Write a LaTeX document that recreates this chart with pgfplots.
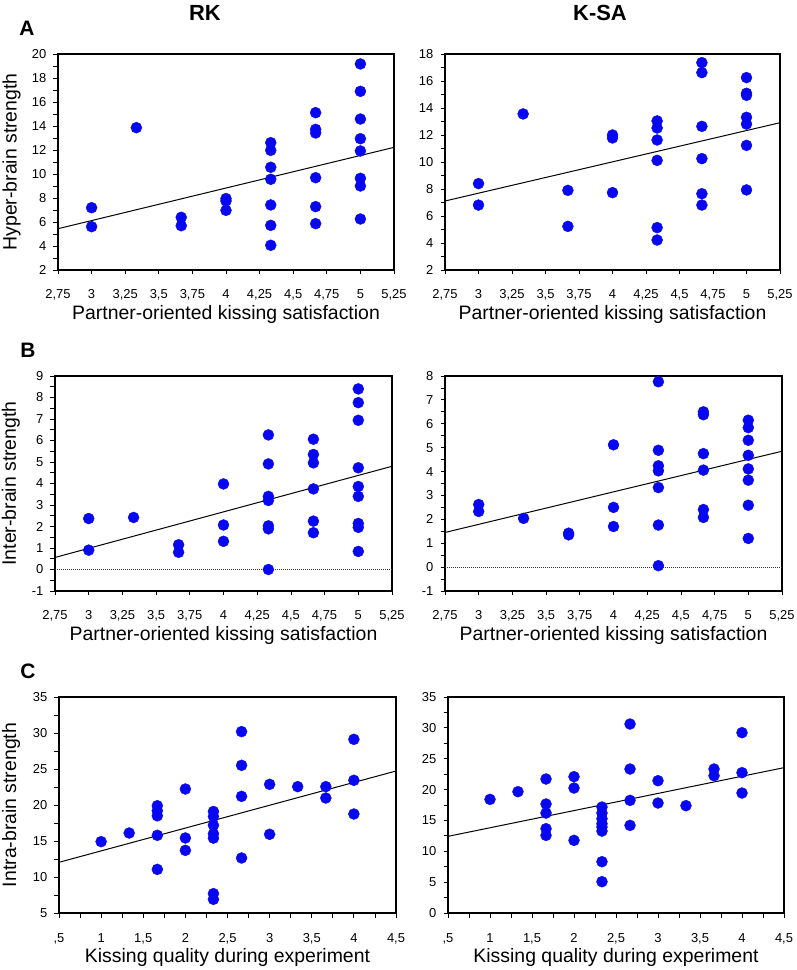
\documentclass[border=0pt]{standalone}
\usepackage{fontspec}
\setmainfont{Liberation Sans}
\usepackage{pgfplots}
\pgfplotsset{compat=1.18}
\definecolor{dotblue}{RGB}{8,8,240}
\pgfplotsset{
  kiss/.style={
    scale only axis, anchor=south west,
    width=336bp, height=216bp,
    axis line style={line width=1.1bp},
    every tick/.style={black, line width=0.8bp},
    tick align=outside,
    major tick length=4.5bp, minor tick length=4.5bp,
    xtick pos=bottom, ytick pos=left,
    /pgf/number format/assume math mode=true,
    tick label style={font=\fontsize{13}{13}\selectfont, inner sep=0pt},
    xticklabel style={anchor=base, yshift=-24.5bp},
    yticklabel style={anchor=east, xshift=-7bp},
    label style={font=\fontsize{19.5}{20}\selectfont},
    xlabel style={at={(axis description cs:0.5,-0.205)}, anchor=center},
  },
  sat/.style={
    xmin=2.75, xmax=5.25,
    xtick={2.75,3,3.25,3.5,3.75,4,4.25,4.5,4.75,5,5.25},
    xticklabels={{2,75},3,{3,25},{3,5},{3,75},4,{4,25},{4,5},{4,75},5,{5,25}},
    xlabel={Partner-oriented kissing satisfaction},
  },
  qual/.style={
    xmin=0.5, xmax=4.5,
    xtick={0.5,1,1.5,2,2.5,3,3.5,4,4.5},
    xticklabels={{,5},1,{1,5},2,{2,5},3,{3,5},4,{4,5}},
    minor x tick num=1,
    xlabel={Kissing quality during experiment},
  },
  pts/.style={only marks, mark=*, mark size=5.5bp, draw=dotblue, fill=dotblue},
  fit/.style={black, line width=1bp, no marks},
  zero/.style={black!80, line width=0.7bp, dash pattern=on 1bp off 1bp, no marks},
}
\begin{document}
\begin{tikzpicture}
\useasboundingbox (0,0) rectangle (797bp,970bp);
\node[font=\bfseries\fontsize{22}{22}\selectfont] at (205bp,957.5bp) {RK};
\node[font=\bfseries\fontsize{22}{22}\selectfont] at (600bp,957.5bp) {K-SA};
\node[font=\bfseries\fontsize{21}{21}\selectfont] at (27bp,942bp) {A};
\node[font=\bfseries\fontsize{21}{21}\selectfont] at (28bp,620bp) {B};
\node[font=\bfseries\fontsize{21}{21}\selectfont] at (28bp,299bp) {C};

% A left
\begin{axis}[kiss, sat, at={(58bp,700bp)}, width=336bp, height=216bp,
  ymin=2, ymax=20, ytick={2,4,...,20}, minor y tick num=1,
  ylabel={Hyper-brain strength},
  ylabel style={at={(axis description cs:-0.138,0.5)}, anchor=center}]
\addplot[pts] coordinates {(3,7.19)(3,5.61)(3.333,13.86)(3.667,6.39)(3.667,5.69)(4,7.95)(4,7.75)(4,6.97)(4.333,12.61)(4.333,11.97)(4.333,10.56)(4.333,9.56)(4.333,7.42)(4.333,5.72)(4.333,4.06)(4.667,15.11)(4.667,13.72)(4.667,13.42)(4.667,9.69)(4.667,7.28)(4.667,5.86)(5,19.17)(5,16.89)(5,14.58)(5,12.94)(5,11.92)(5,9.64)(5,9.0)(5,6.25)};
\addplot[fit] coordinates {(2.75,5.44)(5.25,12.22)};
\end{axis}

% A right
\begin{axis}[kiss, sat, at={(445bp,700bp)}, width=335bp, height=216bp,
  ymin=2, ymax=18, ytick={2,4,...,18}, minor y tick num=1]
\addplot[pts] coordinates {(3,8.40)(3,6.81)(3.333,13.56)(3.667,7.90)(3.667,5.23)(4,12.0)(4,11.78)(4,7.73)(4.333,13.04)(4.333,12.52)(4.333,11.63)(4.333,10.12)(4.333,5.14)(4.333,4.22)(4.667,17.36)(4.667,16.62)(4.667,12.64)(4.667,10.25)(4.667,7.65)(4.667,6.81)(5,16.25)(5,15.09)(5,14.94)(5,13.31)(5,12.81)(5,11.23)(5,7.93)};
\addplot[fit] coordinates {(2.75,7.11)(5.25,12.91)};
\end{axis}

% B left
\begin{axis}[kiss, sat, at={(55bp,379bp)}, width=337bp, height=215bp,
  ymin=-1, ymax=9, ytick={-1,0,...,9}, minor y tick num=1,
  ylabel={Inter-brain strength},
  ylabel style={at={(axis description cs:-0.131,0.5)}, anchor=center}]
\addplot[zero] coordinates {(2.75,0)(5.25,0)};
\addplot[pts] coordinates {(3,2.37)(3,0.90)(3.333,2.42)(3.667,1.15)(3.667,0.80)(4,3.98)(4,2.07)(4,1.31)(4.333,6.26)(4.333,4.91)(4.333,3.40)(4.333,3.21)(4.333,2.03)(4.333,1.89)(4.333,0.0)(4.667,6.06)(4.667,5.35)(4.667,4.96)(4.667,3.75)(4.667,2.25)(4.667,1.71)(5,8.40)(5,7.76)(5,6.94)(5,4.73)(5,3.86)(5,3.40)(5,2.14)(5,1.96)(5,0.84)};
\addplot[fit] coordinates {(2.75,0.56)(5.25,4.80)};
\end{axis}

% B right
\begin{axis}[kiss, sat, at={(445bp,379bp)}, width=337bp, height=215bp,
  ymin=-1, ymax=8, ytick={-1,0,...,8}, minor y tick num=1]
\addplot[zero] coordinates {(2.75,0)(5.25,0)};
\addplot[pts] coordinates {(3,2.62)(3,2.33)(3.333,2.04)(3.667,1.42)(3.667,1.35)(4,5.12)(4,2.50)(4,1.70)(4.333,7.76)(4.333,4.89)(4.333,4.24)(4.333,4.03)(4.333,3.33)(4.333,1.76)(4.333,0.06)(4.667,6.50)(4.667,6.38)(4.667,4.75)(4.667,4.06)(4.667,2.41)(4.667,2.08)(5,6.15)(5,5.84)(5,5.31)(5,4.68)(5,4.11)(5,3.64)(5,2.59)(5,1.20)};
\addplot[fit] coordinates {(2.75,1.45)(5.25,4.85)};
\end{axis}

% C left
\begin{axis}[kiss, qual, at={(59bp,57bp)}, width=337bp, height=216bp,
  ymin=5, ymax=35, ytick={5,10,...,35}, minor y tick num=1,
  ylabel={Intra-brain strength},
  ylabel style={at={(axis description cs:-0.142,0.5)}, anchor=center}]
\addplot[pts] coordinates {(1,14.91)(1.333,16.11)(1.667,19.9)(1.667,19.2)(1.667,18.5)(1.667,15.79)(1.667,11.06)(2,22.22)(2,15.42)(2,13.70)(2.333,19.1)(2.333,18.4)(2.333,17.2)(2.333,16.0)(2.333,15.4)(2.333,7.69)(2.333,6.90)(2.667,30.19)(2.667,25.51)(2.667,21.20)(2.667,12.64)(3,22.87)(3,15.93)(3.333,22.55)(3.667,22.55)(3.667,20.97)(4,29.12)(4,23.43)(4,18.75)};
\addplot[fit] coordinates {(0.5,12.04)(4.5,24.72)};
\end{axis}

% C right
\begin{axis}[kiss, qual, at={(448bp,57bp)}, width=336bp, height=216bp,
  ymin=0, ymax=35, ytick={0,5,...,35}, minor y tick num=1]
\addplot[pts] coordinates {(1,18.41)(1.333,19.66)(1.667,21.71)(1.667,17.66)(1.667,16.2)(1.667,13.66)(1.667,12.58)(2,22.09)(2,20.25)(2,11.77)(2.333,17.17)(2.333,16.2)(2.333,15.28)(2.333,14.47)(2.333,13.93)(2.333,13.28)(2.333,8.31)(2.333,5.07)(2.667,30.62)(2.667,23.33)(2.667,18.25)(2.667,14.2)(3,21.44)(3,17.82)(3.333,17.39)(3.667,23.33)(3.667,22.25)(4,29.22)(4,22.74)(4,19.44)};
\addplot[fit] coordinates {(0.5,12.42)(4.5,23.55)};
\end{axis}
\end{tikzpicture}
\end{document}
